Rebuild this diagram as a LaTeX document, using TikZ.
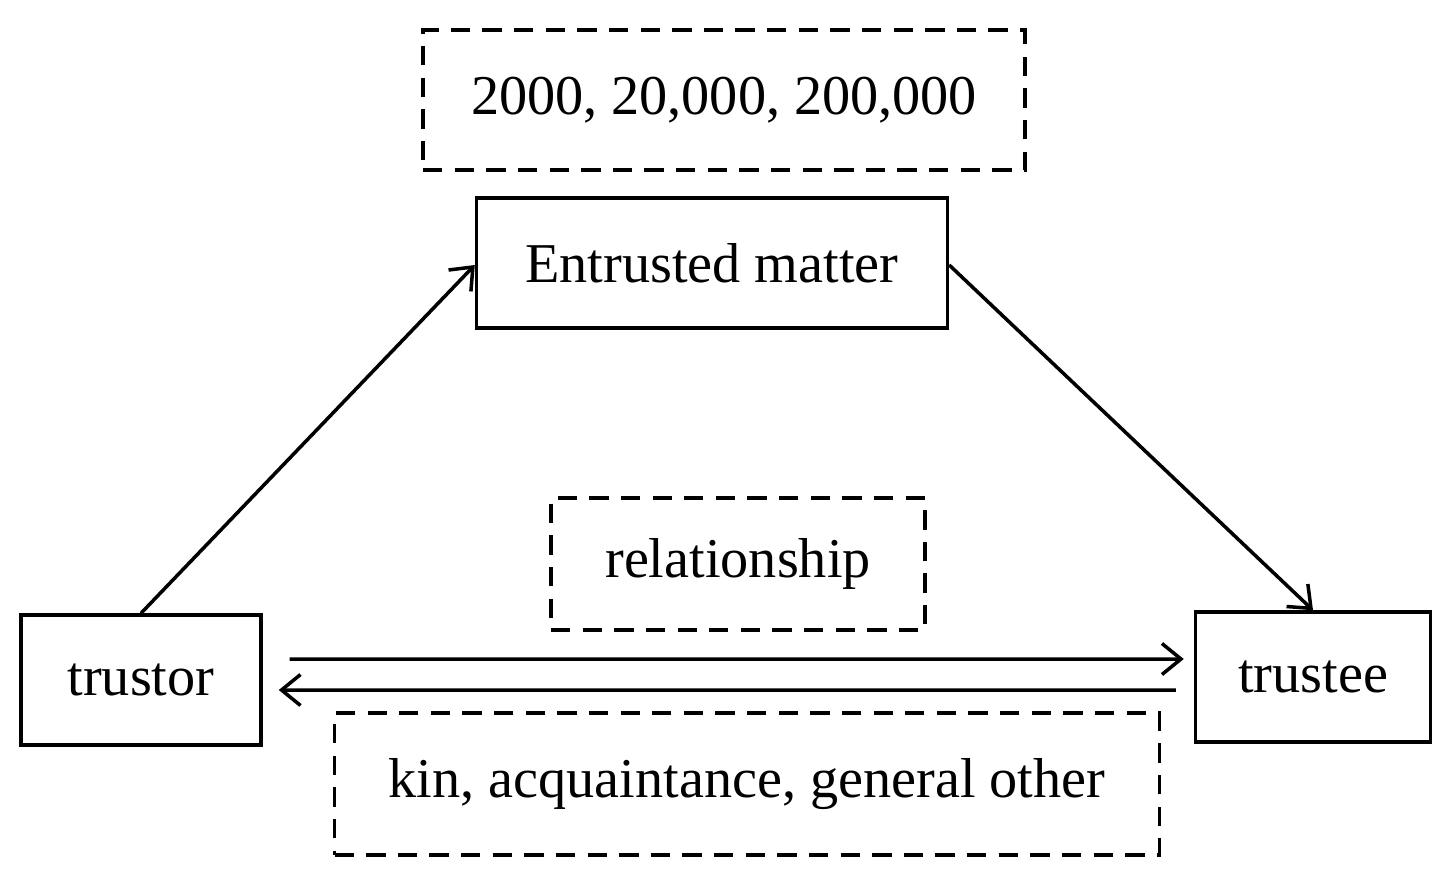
\documentclass[tikz,border=0pt]{standalone}
\usepackage{fontspec}
\setmainfont{Liberation Serif}
\usetikzlibrary{positioning,arrows.meta}

\tikzset{
    box/.style={draw, line width=2pt, inner sep=0pt, font=\fontsize{32}{38}\selectfont},
    dbox/.style={box, dash pattern=on 11pt off 7pt},
    arr/.style={line width=2pt, -{Straight Barb[length=0.38cm, width=0.62cm, line width=2pt]}}
}

\begin{document}
\begin{tikzpicture}[x=0.02cm, y=-0.02cm]

        \useasboundingbox (0, 0) rectangle (1448, 877);

        \node[dbox, minimum width=12.04cm, minimum height=2.8cm] (amount) at (724, 100) {2000, 20,000, 200,000};
        \node[box, minimum width=9.42cm, minimum height=2.6cm] (matter) at (712, 263) {Entrusted matter};
        \node[dbox, minimum width=7.48cm, minimum height=2.64cm] (rel) at (738, 564) {relationship};
        \node[box, minimum width=4.8cm, minimum height=2.6cm] (trustor) at (141, 680) {trustor};
        \node[box, minimum width=4.7cm, minimum height=2.6cm] (trustee) at (1313, 677) {trustee};
        \node[dbox, minimum width=16.5cm, minimum height=2.84cm] (kin) at (747, 784) {kin, acquaintance, general other};

        \draw[arr] (trustor.north) -- ([yshift=-0.04cm]matter.west);
        \draw[arr] ([yshift=-0.04cm]matter.east) -- (trustee.north);

        \draw[arr] ([xshift=0.54cm, yshift=0.42cm]trustor.east) -- ([xshift=-0.2cm, yshift=0.36cm]trustee.west);
        \draw[arr] ([xshift=-0.36cm, yshift=-0.26cm]trustee.west) -- ([xshift=0.32cm, yshift=-0.2cm]trustor.east);

\end{tikzpicture}
\end{document}
